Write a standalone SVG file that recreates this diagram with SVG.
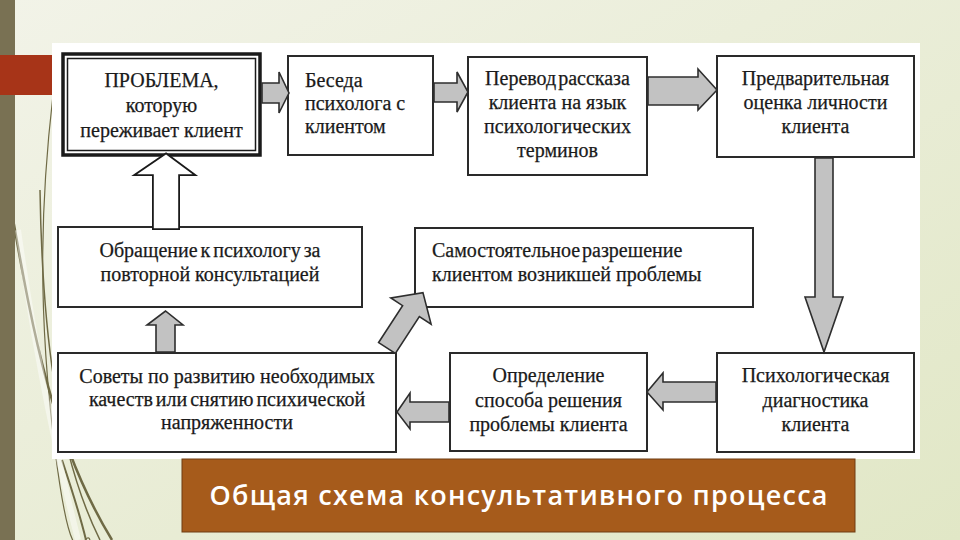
<svg xmlns="http://www.w3.org/2000/svg" width="960" height="540" viewBox="0 0 960 540">
<defs>
<linearGradient id="bg" x1="0" y1="0" x2="1" y2="1">
<stop offset="0" stop-color="#f2f3e8"/>
<stop offset="1" stop-color="#e1e7c6"/>
</linearGradient>
<style>
.box{fill:#fff;stroke:#2a2a2a;stroke-width:2}
.t{font-family:"Liberation Serif","Times New Roman",serif;font-size:20px;fill:#1a1a1a;stroke:#1a1a1a;stroke-width:0.25}
.c{text-anchor:middle}
.ar{fill:#c2c2c2;stroke:#2e2e2e;stroke-width:1.6;stroke-linejoin:miter}
.wisp{fill:none;stroke:#6f6a45}
</style>
</defs>
<rect width="960" height="540" fill="url(#bg)"/>
<g id="decor">
<path class="wisp" d="M 6 180 C 28 300 45 430 112 540" stroke-width="2.5"/>
<path class="wisp" d="M 40 190 C 42 320 55 450 100 540" stroke-width="1.5"/>
<path class="wisp" d="M 53 95 C 42 190 36 300 55 450 S 84 525 90 540" stroke-width="1.2"/>
<path class="wisp" d="M 62 460 C 72 490 80 515 86 540" stroke-width="2"/>
<path d="M 18 230 C 38 370 58 460 78 540" fill="none" stroke="#ffffff" stroke-opacity="0.45" stroke-width="6"/>
<rect x="0" y="0" width="15" height="540" fill="#797153"/>
<rect x="0" y="55" width="53" height="40" fill="#a73418"/>
</g>
<rect id="panel" x="52" y="43" width="868" height="416" fill="#ffffff"/>
<g id="n1">
<rect x="63" y="54" width="197" height="101" fill="#fff" stroke="#1a1a1a" stroke-width="3.5"/>
<rect x="67.5" y="58.5" width="188" height="92" fill="none" stroke="#1a1a1a" stroke-width="1.5"/>
<text class="t c" x="161.5" y="87">ПРОБЛЕМА,</text>
<text class="t c" x="161.5" y="112">которую</text>
<text class="t c" x="161.5" y="137">переживает клиент</text>
</g>
<g id="n2">
<rect class="box" x="288" y="56" width="145" height="99"/>
<text class="t" x="305" y="87">Беседа</text>
<text class="t" x="305" y="110">психолога с</text>
<text class="t" x="305" y="133">клиентом</text>
</g>
<g id="n3">
<rect class="box" x="468" y="57" width="179" height="118"/>
<text class="t c" x="557.5" y="85" word-spacing="-3">Перевод рассказа</text>
<text class="t c" x="557.5" y="109">клиента на язык</text>
<text class="t c" x="557.5" y="133">психологических</text>
<text class="t c" x="557.5" y="157">терминов</text>
</g>
<g id="n4">
<rect class="box" x="717" y="56" width="197" height="101"/>
<text class="t c" x="815.5" y="85">Предварительная</text>
<text class="t c" x="815.5" y="109">оценка личности</text>
<text class="t c" x="815.5" y="133">клиента</text>
</g>
<g id="n5">
<rect class="box" x="58" y="227" width="304" height="80"/>
<text class="t c" x="210" y="257" word-spacing="-2">Обращение к психологу за</text>
<text class="t c" x="210" y="281">повторной консультацией</text>
</g>
<g id="n6">
<rect class="box" x="415" y="228" width="338" height="79"/>
<text class="t" x="432" y="257" word-spacing="-3">Самостоятельное разрешение</text>
<text class="t" x="432" y="281">клиентом возникшей проблемы</text>
</g>
<g id="n7">
<rect class="box" x="58" y="353" width="338" height="99"/>
<text class="t c" x="227" y="383">Советы по развитию необходимых</text>
<text class="t c" x="227" y="406" word-spacing="-2">качеств или снятию психической</text>
<text class="t c" x="227" y="429">напряженности</text>
</g>
<g id="n8">
<rect class="box" x="450" y="353" width="197" height="98"/>
<text class="t c" x="548.5" y="382">Определение</text>
<text class="t c" x="548.5" y="407">способа решения</text>
<text class="t c" x="548.5" y="431">проблемы клиента</text>
</g>
<g id="n9">
<rect class="box" x="717" y="353" width="197" height="99"/>
<text class="t c" x="815.5" y="382">Психологическая</text>
<text class="t c" x="815.5" y="407">диагностика</text>
<text class="t c" x="815.5" y="431">клиента</text>
</g>
<g id="connectors">
<polygon class="ar" points="262,83 279,83 279,72 289,93 279,113 279,103 262,103"/>
<polygon class="ar" points="434,83 457,83 457,72 468,92 457,112 457,102 434,102"/>
<polygon class="ar" points="648,77 698,77 698,69 717,90 698,110 698,105 648,105"/>
<polygon class="ar" points="815,158 833,158 833,297 843,297 824,352 805,297 815,297"/>
<polygon class="ar" points="716,382 663,382 663,373 647,392 663,410 663,402 716,402"/>
<polygon class="ar" points="449,402 410,402 410,393 397,412 410,429 410,422 449,422"/>
<polygon class="ar" points="156,352 156,325 147,325 165.5,311 183,325 175,325 175,352"/>
<polygon class="ar" points="-10,0 -10,-44 -24,-44 0,-66 24,-44 10,-44 10,0" transform="translate(387,348) rotate(33)"/>
<g id="double-arrow">
<polygon points="155,227 155,173 141,173 166,156 189,173 177,173 177,227" fill="#fff" stroke="#1a1a1a" stroke-width="6" stroke-linejoin="miter"/>
<polygon points="155,227 155,173 141,173 166,156 189,173 177,173 177,227" fill="#fff" stroke="#fff" stroke-width="2.4" stroke-linejoin="miter"/>
</g>
</g>
<g id="caption">
<rect x="182" y="459" width="673" height="73" fill="#a65b1b" stroke="#6e3c12" stroke-width="1"/>
<text x="518.5" y="505" text-anchor="middle" font-family="'Open Sans','DejaVu Sans',sans-serif" font-size="27" font-weight="600" fill="#ffffff" textLength="618" lengthAdjust="spacing">Общая схема консультативного процесса</text>
</g>
</svg>
